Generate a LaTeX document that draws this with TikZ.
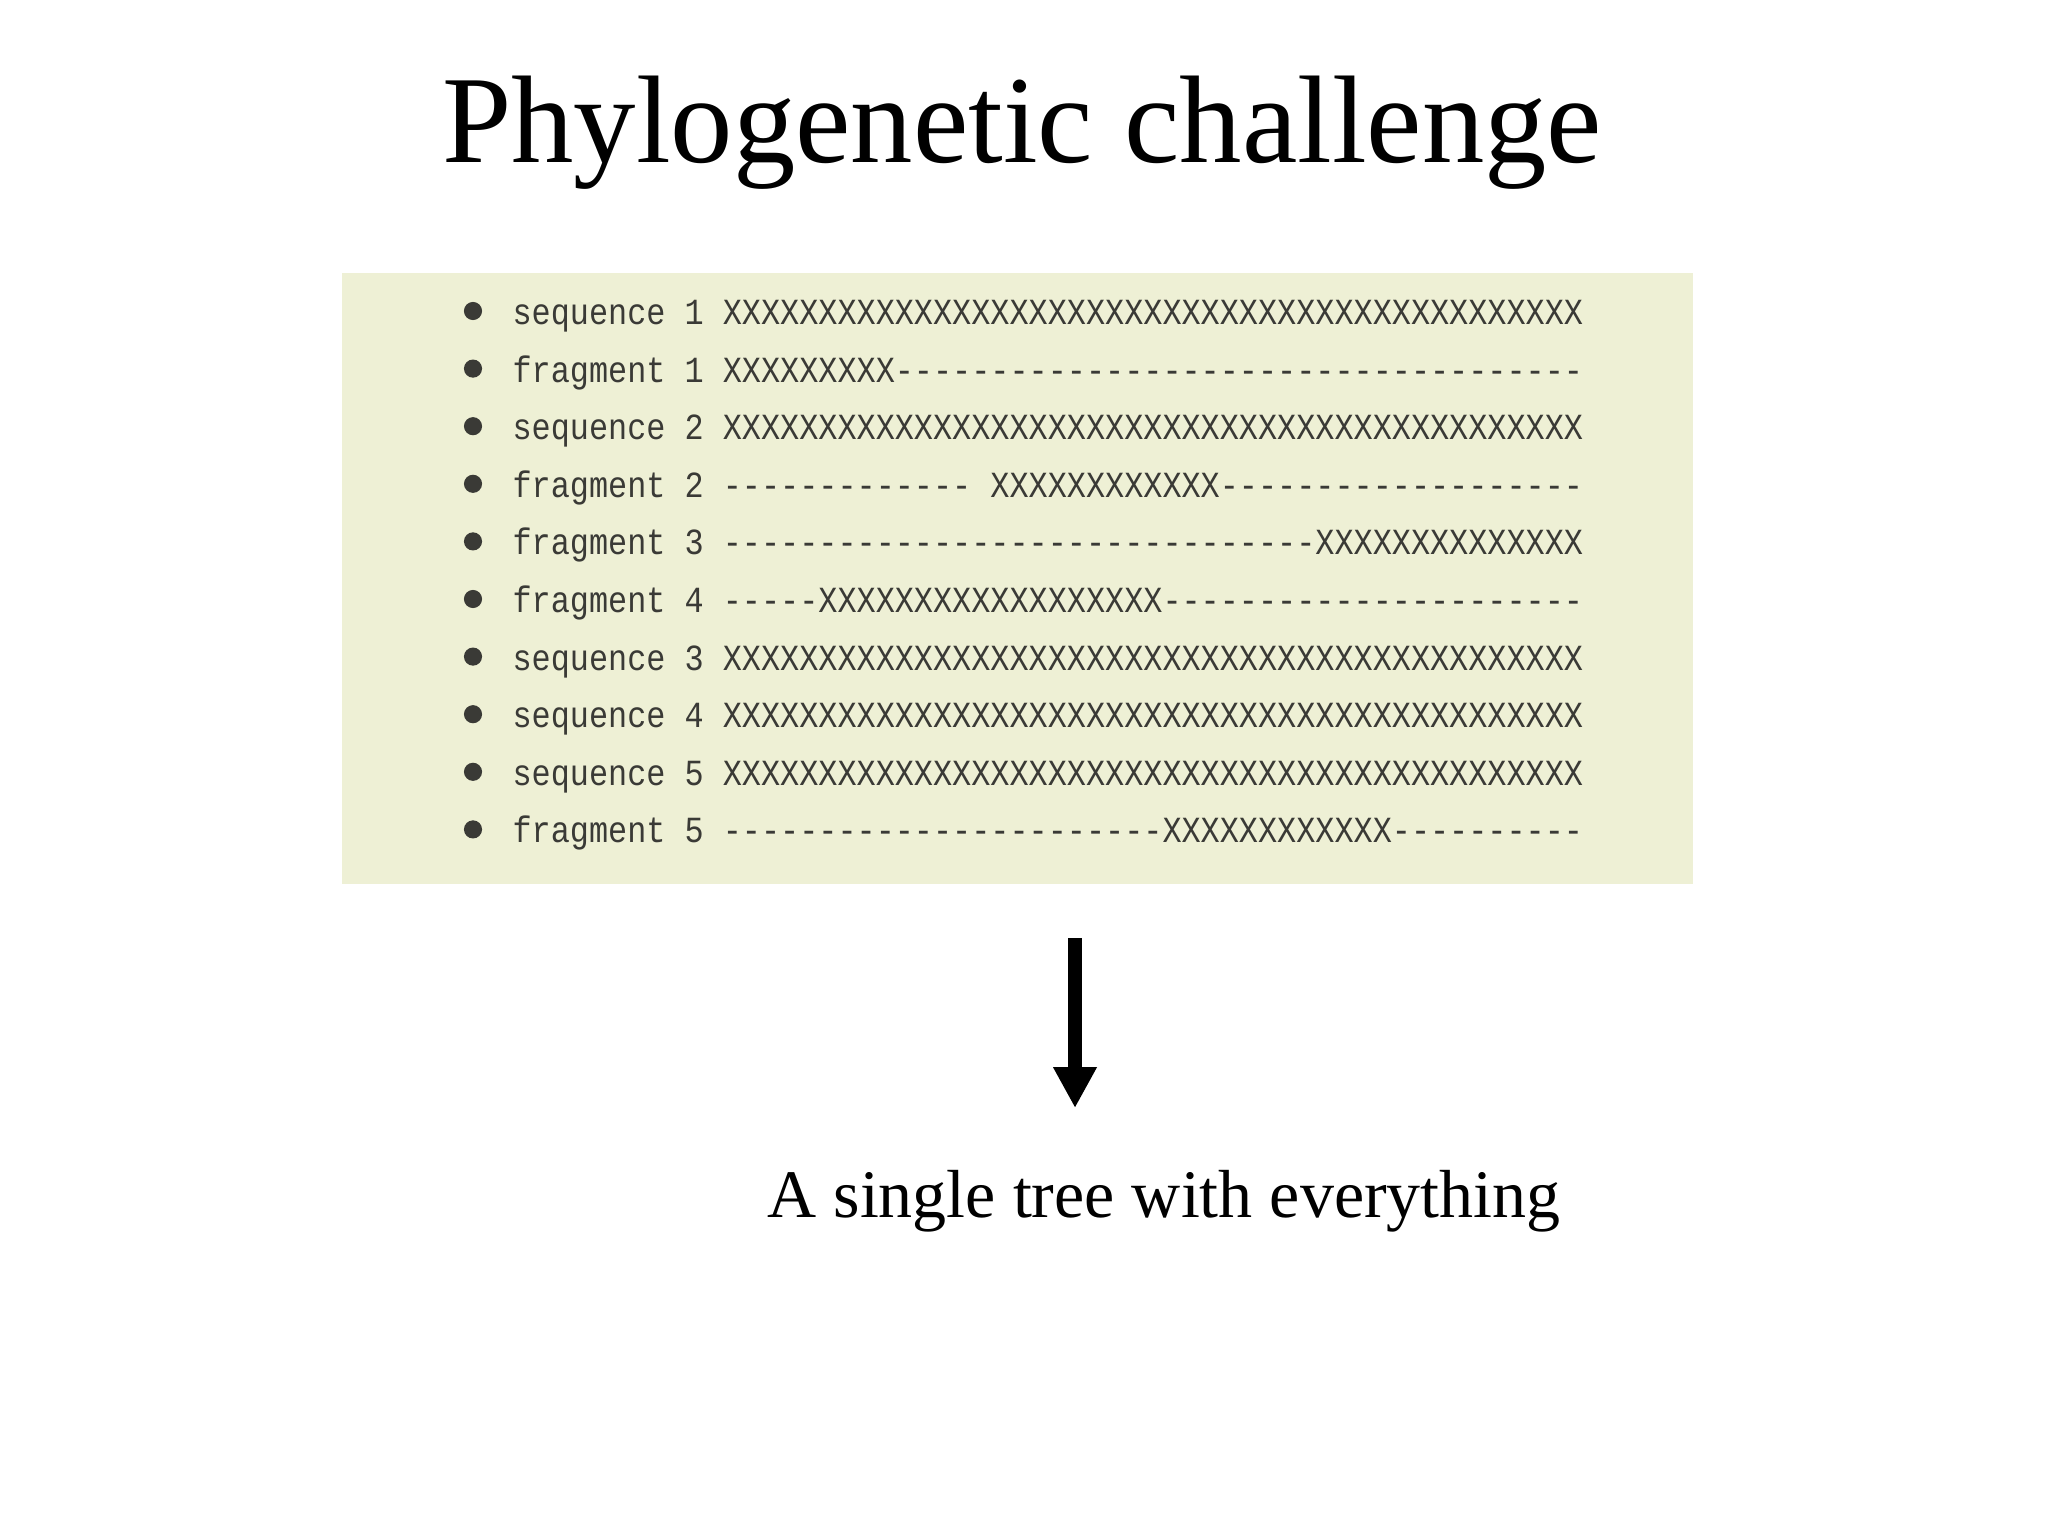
\documentclass[tikz,border=0pt]{standalone}
\usepackage{fontspec}
\usetikzlibrary{arrows.meta}
\setmainfont{Liberation Serif}
\newfontfamily\seqfont[FakeStretch=0.865,Ligatures=TeXOff]{Liberation Mono}
\definecolor{fond}{RGB}{238,240,213}
\definecolor{encre}{RGB}{58,58,54}
\tikzset{
  ligne/.style={anchor=base west, inner sep=0pt, text=encre,
    font=\seqfont\fontsize{13}{15}\selectfont},
  puce/.style={fill=encre},
}
\begin{document}
\begin{tikzpicture}[x=0.0124023cm, y=-0.0124023cm]
\useasboundingbox (0,0) rectangle (2048,1536);
\fill[white] (0,0) rectangle (2048,1536);
% Titre
\node[anchor=base, inner sep=0pt, font=\fontsize{44}{50}\selectfont] (titre) at (1022,162) {Phylogenetic challenge};
% Cadre
\fill[fond] (342,273) rectangle (1693,884);
% Sequences et fragments
\foreach \i/\nom/\seq in {
  0/sequence 1/XXXXXXXXXXXXXXXXXXXXXXXXXXXXXXXXXXXXXXXXXXXXX,
  1/fragment 1/XXXXXXXXX------------------------------------,
  2/sequence 2/XXXXXXXXXXXXXXXXXXXXXXXXXXXXXXXXXXXXXXXXXXXXX,
  3/fragment 2/-------------\ XXXXXXXXXXXX-------------------,
  4/fragment 3/-------------------------------XXXXXXXXXXXXXX,
  5/fragment 4/-----XXXXXXXXXXXXXXXXXX----------------------,
  6/sequence 3/XXXXXXXXXXXXXXXXXXXXXXXXXXXXXXXXXXXXXXXXXXXXX,
  7/sequence 4/XXXXXXXXXXXXXXXXXXXXXXXXXXXXXXXXXXXXXXXXXXXXX,
  8/sequence 5/XXXXXXXXXXXXXXXXXXXXXXXXXXXXXXXXXXXXXXXXXXXXX,
  9/fragment 5/-----------------------XXXXXXXXXXXX----------}
{
  \fill[puce] (473,{311+57.6*\i}) circle (3.2pt);
  \node[ligne] (l\i) at (512,{324.5+57.6*\i}) {\nom\ \seq};
}
% Fleche
\coordinate (haut) at (1075,938);
\coordinate (bas) at (1075,1108);
\draw[line width=4.9pt, -{Triangle[width=14.4pt,length=14.4pt]}] (haut) -- (bas);
% Conclusion
\node[anchor=base, inner sep=0pt, font=\fontsize{24}{28}\selectfont] (arbre) at (1164,1217) {A single tree with everything};
\end{tikzpicture}
\end{document}
